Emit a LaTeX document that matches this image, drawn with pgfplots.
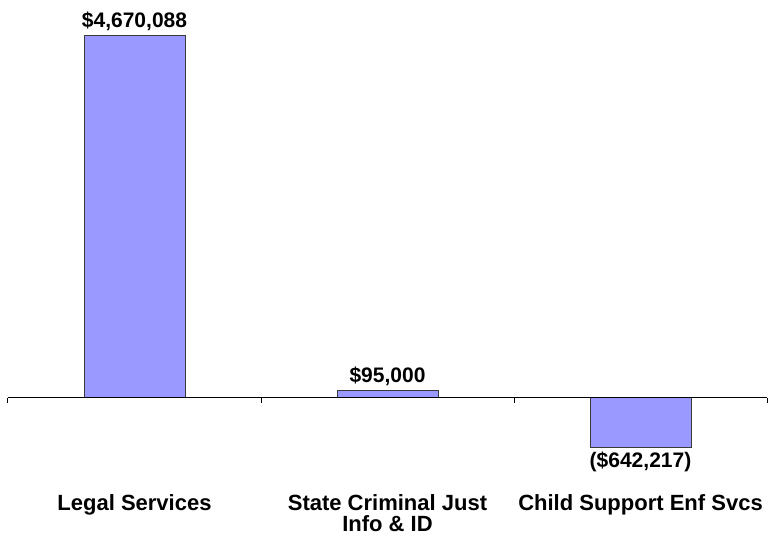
\documentclass[border=0pt]{standalone}
\usepackage{fontspec}
\setmainfont{Liberation Sans}
\usepackage{pgfplots}
\pgfplotsset{compat=1.18}
\usetikzlibrary{calc}
\definecolor{barfill}{HTML}{9999FF}
\definecolor{baredge}{HTML}{3A3A3A}
\begin{document}
\begin{tikzpicture}
\begin{axis}[
  scale only axis, width=759pt, height=488pt,
  xmin=-0.5, xmax=2.5, ymin=-1161070, ymax=5134500,
  axis line style={draw=none},
  ytick=\empty,
  xtick={0,1,2},
  xticklabels={Legal Services, {State Criminal Just\\Info \& ID}, Child Support Enf Svcs},
  major x tick style={draw=none},
  xticklabel style={align=center, yshift=-4pt, inner sep=2pt, font=\fontsize{22}{21.5}\selectfont\bfseries},
  clip=false,
]
\addplot[ybar, bar width=101pt, bar shift=0pt, fill=barfill, draw=baredge, line width=1pt,
  point meta=explicit symbolic, nodes near coords,
  nodes near coords style={font=\fontsize{21}{21}\selectfont\bfseries, anchor=south, text=black, yshift=1pt}]
  coordinates {(0,4670088) [\$4,670,088] (1,95000) [\$95,000]};
\addplot[ybar, bar width=101pt, bar shift=0pt, fill=barfill, draw=baredge, line width=1pt,
  point meta=explicit symbolic, nodes near coords,
  nodes near coords style={font=\fontsize{21}{21}\selectfont\bfseries, anchor=north, text=black}]
  coordinates {(2,-642217) [(\$642,217)]};
\addplot[black, line width=1pt, mark=none] coordinates {(-0.5,0) (2.5,0)};
\addplot[ycomb, black, line width=1pt, mark=none] coordinates {(-0.5,-64500) (0.5,-64500) (1.5,-64500) (2.5,-64500)};
\coordinate (ref) at (axis cs:-0.5,0);
\end{axis}
\pgfresetboundingbox
\path ($(ref)+(-8pt,-140pt)$) rectangle ($(ref)+(761pt,398pt)$);
\end{tikzpicture}
\end{document}
